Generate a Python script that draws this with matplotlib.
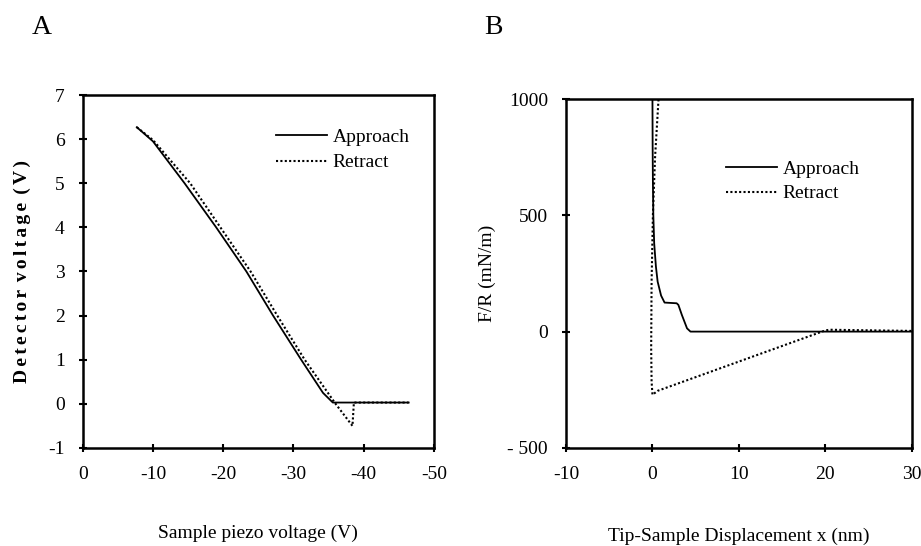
import numpy as np
import matplotlib
matplotlib.use('Agg')
import matplotlib.pyplot as plt

plt.rcParams['font.family'] = ['Liberation Serif', 'DejaVu Serif']

# panel A: detector voltage vs sample piezo voltage
a_app_x = [-7.7, -10, -14.5, -19.0, -23.3, -27.1, -31.1, -34.2, -35.6, -46.4]
a_app_y = [6.27, 5.95, 5.0, 4.0, 3.0, 2.0, 1.0, 0.25, 0.03, 0.03]
a_ret_x = [-7.7, -10, -15.3, -19.6, -23.9, -27.7, -31.6, -34.9, -36.0, -38.4, -38.6, -46.4]
a_ret_y = [6.27, 5.98, 5.0, 4.0, 3.0, 2.0, 1.0, 0.25, 0.0, -0.5, 0.03, 0.03]
a_xticks = [0, -10, -20, -30, -40, -50]
a_xlabels = ['0', '-10', '-20', '-30', '-40', '-50']
a_yticks = [-1, 0, 1, 2, 3, 4, 5, 6, 7]
a_ylabels = ['-1', '0', '1', '2', '3', '4', '5', '6', '7']

# panel B: F/R vs tip-sample displacement
b_app_x = [0.0, 0.02, 0.05, 0.1, 0.2, 0.4, 0.6, 1.0, 1.4, 2.8, 3.0, 3.4, 4.0, 4.4, 30]
b_app_y = [1000, 800, 650, 500, 380, 280, 215, 155, 125, 122, 115, 72, 14, 0, 0]
b_ret_x = [0.7, 0.3, 0.05, -0.1, -0.15, -0.1, 0.0, 0.6, 20.0, 20.5, 30]
b_ret_y = [1000, 750, 500, 215, -70, -215, -272, -255, 5, 8, 3]
b_xticks = [-10, 0, 10, 20, 30]
b_xlabels = ['-10', '0', '10', '20', '30']
b_yticks = [-500, 0, 500, 1000]
b_ylabels = ['- 500', '0', '500', '1000']

dots = (0, (1, 1.1))


def spaced(word):
    # letter-spaced label like the original
    return '\u2006'.join(word)


fig = plt.figure(figsize=(9.21, 5.46), dpi=100)
ax1 = fig.add_axes([0.0898, 0.1795, 0.3814, 0.6465])
ax2 = fig.add_axes([0.6146, 0.180, 0.3753, 0.638])

ax1.plot(a_app_x, a_app_y, color='black', lw=1.3, label='Approach')
ax1.plot(a_ret_x, a_ret_y, color='black', lw=1.5, ls=dots, label='Retract')
ax1.set_xlim(0, -50)
ax1.set_ylim(-1, 7)
ax1.set_xticks(a_xticks)
ax1.set_xticklabels(a_xlabels)
ax1.set_yticks(a_yticks)
ax1.set_yticklabels(a_ylabels)
ax1.set_xlabel('Sample piezo voltage (V)', fontsize=14, labelpad=30)
ylab = ' \u2006'.join(spaced(w) for w in ['Detector', 'voltage', '(V)'])
ax1.set_ylabel(ylab, fontsize=14, fontweight='bold', labelpad=12)
ax1.legend(loc='upper right', bbox_to_anchor=(0.98, 0.955), frameon=False,
           fontsize=14, handlelength=2.6, handletextpad=0.3, labelspacing=0.4)

ax2.plot(b_app_x, b_app_y, color='black', lw=1.3, label='Approach')
ax2.plot(b_ret_x, b_ret_y, color='black', lw=1.5, ls=dots, label='Retract')
ax2.set_xlim(-10, 30)
ax2.set_ylim(-500, 1000)
ax2.set_xticks(b_xticks)
ax2.set_xticklabels(b_xlabels)
ax2.set_yticks(b_yticks)
ax2.set_yticklabels(b_ylabels)
ax2.set_xlabel('Tip-Sample Displacement x (nm)', fontsize=14, labelpad=32)
ax2.set_ylabel('F/R (mN/m)', fontsize=14, labelpad=8)
ax2.legend(loc='upper right', bbox_to_anchor=(0.9, 0.875), frameon=False,
           fontsize=14, handlelength=2.6, handletextpad=0.3, labelspacing=0.35)

for ax in (ax1, ax2):
    for s in ax.spines.values():
        s.set_linewidth(1.8)
    ax.tick_params(direction='inout', length=6, width=1.5, labelsize=14, pad=10)

fig.text(0.034, 0.938, 'A', fontsize=20)
fig.text(0.526, 0.938, 'B', fontsize=20)

fig.savefig('out.png', dpi=100)
